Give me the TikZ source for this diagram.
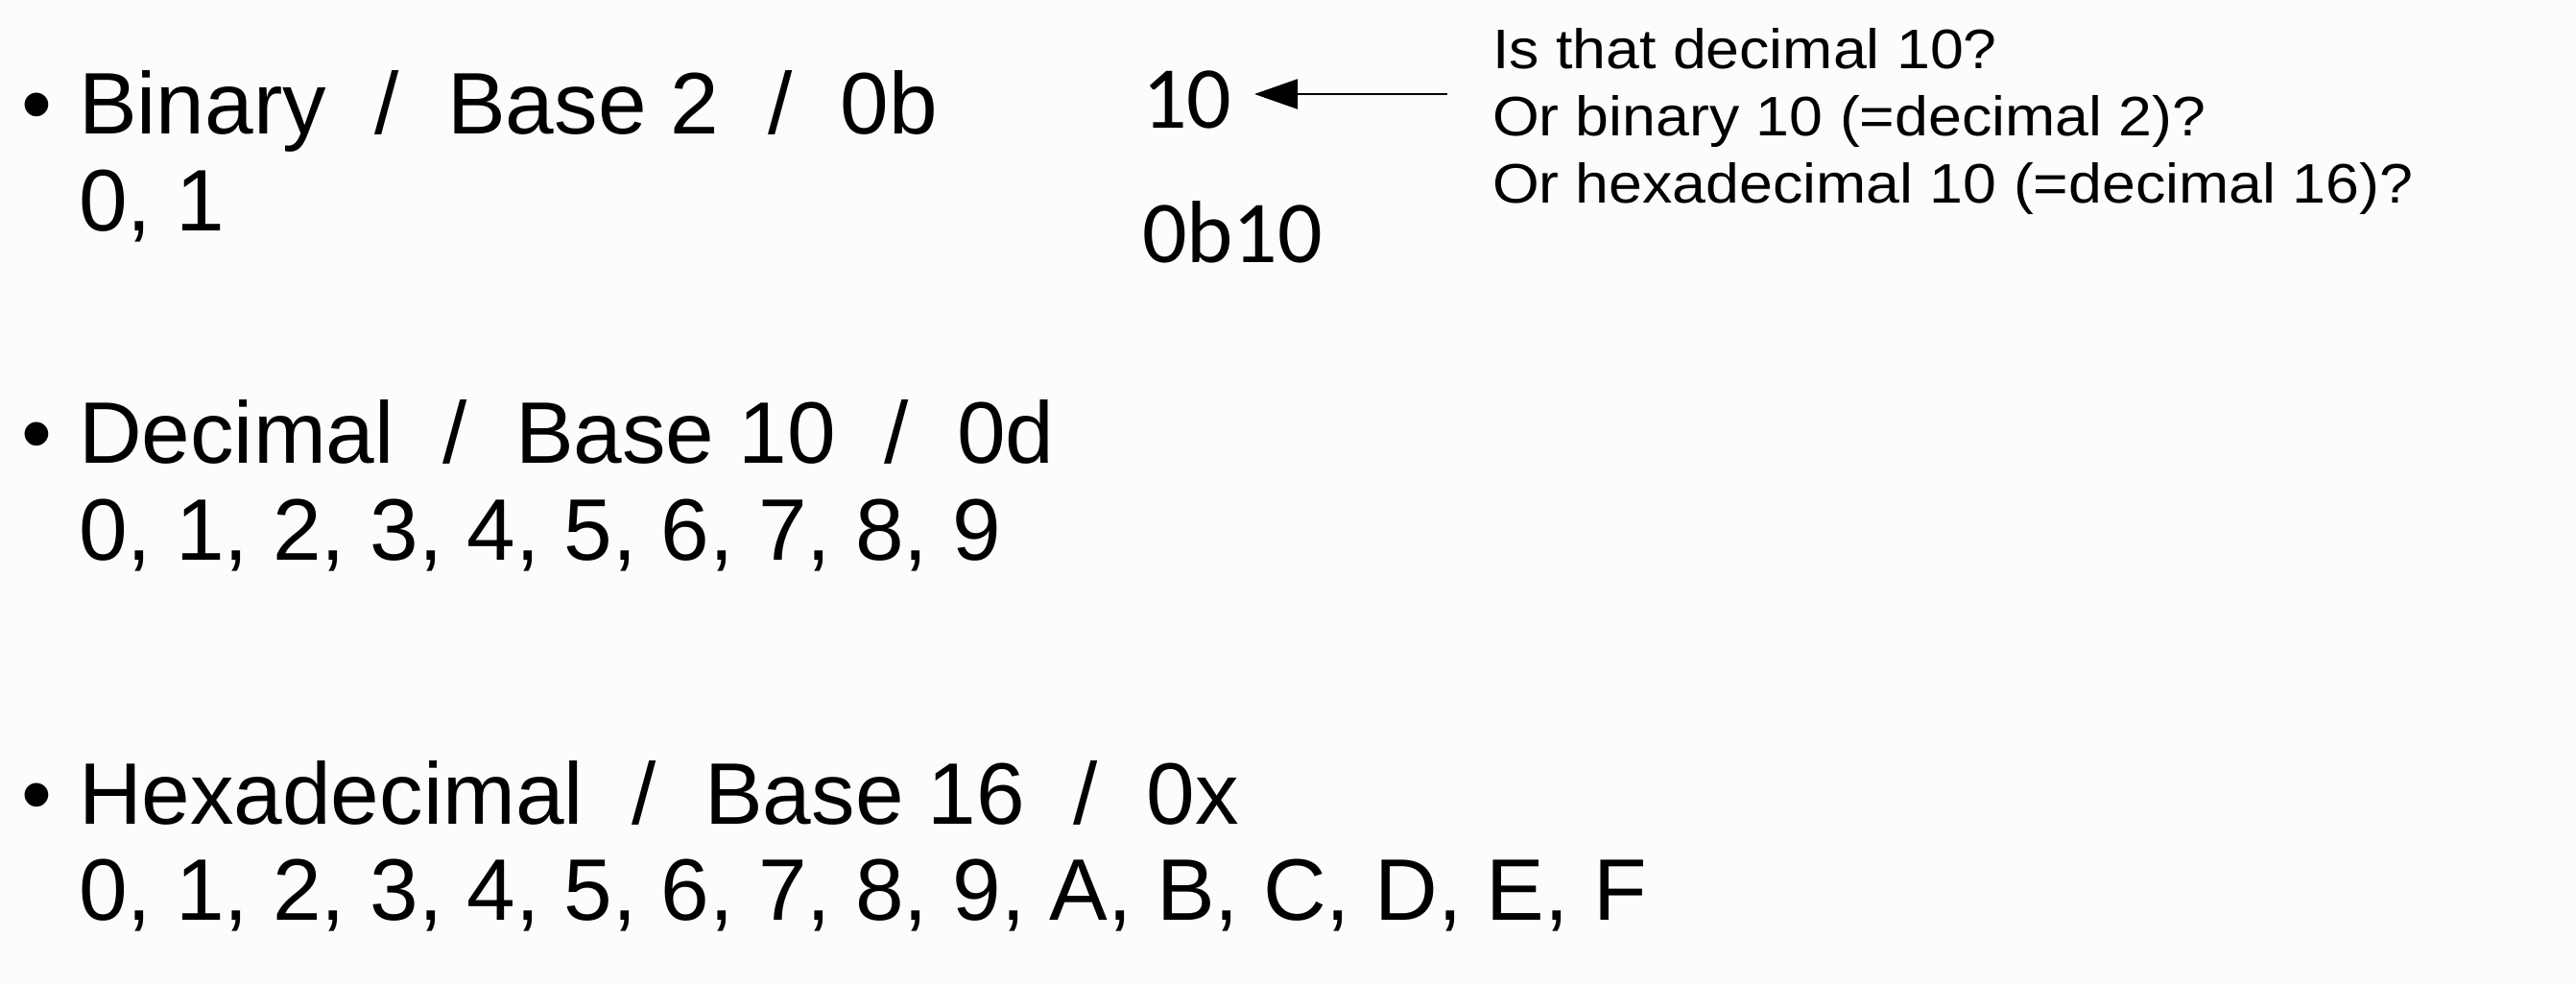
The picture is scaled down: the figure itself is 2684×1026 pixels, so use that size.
\documentclass[tikz,border=0pt]{standalone}
\usepackage{fontspec}
\setmainfont{Liberation Sans}
\newfontfamily\calfont{Carlito}
\newfontfamily\qfont[FakeStretch=1.08]{Liberation Sans}
\usetikzlibrary{arrows.meta}
\definecolor{slidebg}{RGB}{252,252,252}
\begin{document}
\begin{tikzpicture}[x=1pt,y=-1pt,
  txt/.style={anchor=base west, inner sep=0pt, outer sep=0pt},
  big/.style={txt, font=\fontsize{91}{100}\selectfont},
  num/.style={txt, font=\calfont\fontsize{92}{100}\selectfont},
  small/.style={txt, font=\qfont\fontsize{58}{70}\selectfont},
  pointer/.style={draw=black, line width=2pt, -{Triangle[length=45pt,width=31pt]}}]
\useasboundingbox[fill=slidebg] (0,0) rectangle (2684,1026);
% Binary
\node[big] (b1) at (23,139) {•};
\node[big] (bin) at (82,139) {Binary\ \ /\ \ Base 2\ \ /\ \ 0b};
\node[big] (bindig) at (82,240) {0, 1};
% Decimal
\node[big] (b2) at (23,482) {•};
\node[big] (dec) at (82,482) {Decimal\ \ /\ \ Base 10\ \ /\ \ 0d};
\node[big] (decdig) at (82,583) {0, 1, 2, 3, 4, 5, 6, 7, 8, 9};
% Hexadecimal
\node[big] (b3) at (23,858) {•};
\node[big] (hex) at (82,858) {Hexadecimal\ \ /\ \ Base 16\ \ /\ \ 0x};
\node[big] (hexdig) at (82,958) {0, 1, 2, 3, 4, 5, 6, 7, 8, 9, A, B, C, D, E, F};
% Example
\node[num] (ten) at (1190,133) {10};
\node[num] (obten) at (1190,273) {0b10};
\node[small] (q1) at (1555,71) {Is that decimal 10?};
\node[small] (q2) at (1555,141) {Or binary 10 (=decimal 2)?};
\node[small] (q3) at (1555,211) {Or hexadecimal 10 (=decimal 16)?};
\coordinate (tail) at (1508,98);
\coordinate (tip) at (1307,98);
\draw[pointer] (tail) -- (tip);
\end{tikzpicture}
\end{document}
